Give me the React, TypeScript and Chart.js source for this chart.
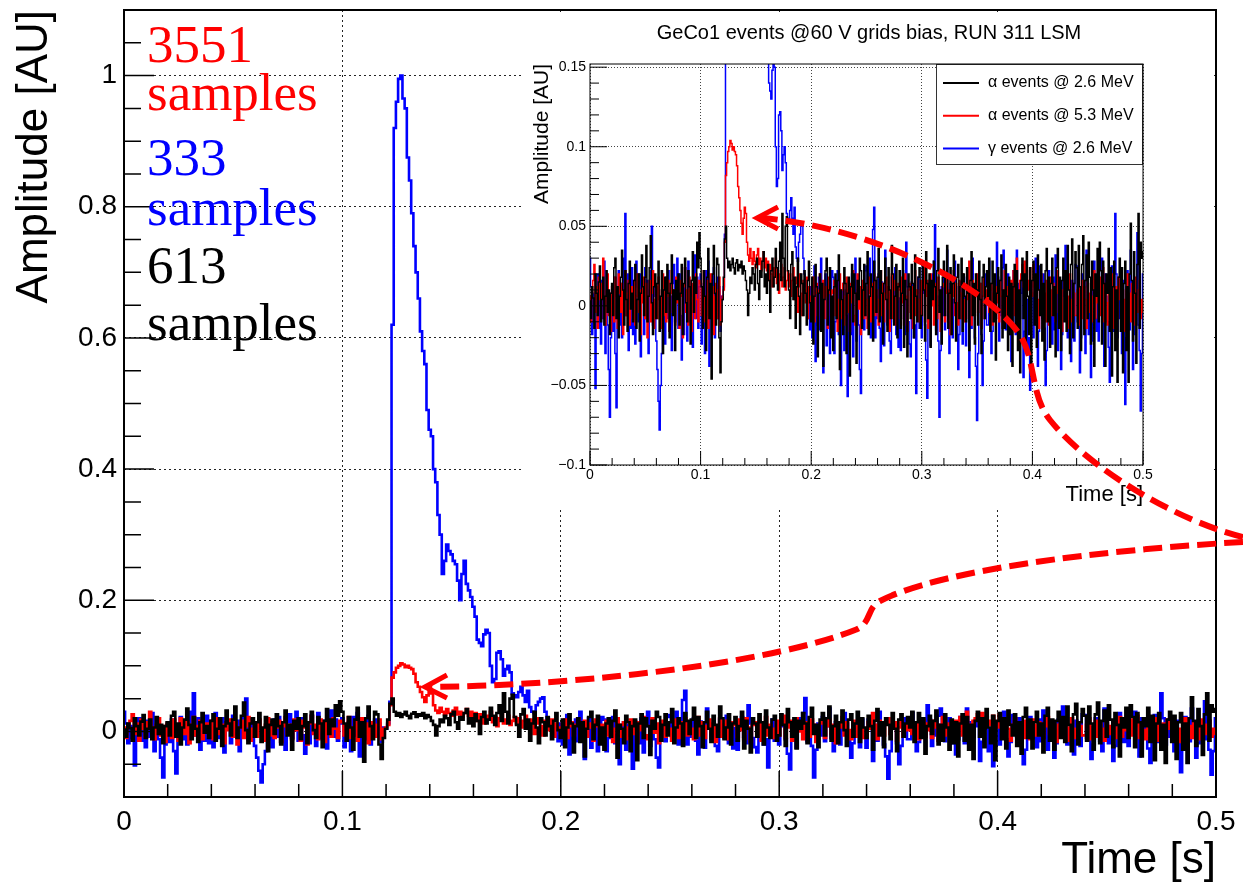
import React, { useEffect, useRef } from 'react';
import { Chart, registerables } from 'chart.js';

Chart.register(...registerables);

// ---------------- data (amplitudes in milli-AU, one sample every 1 ms, 0 … 0.5 s) ----------------
const SAMPLE_PERIOD_S = 0.001;

// alpha events @ 2.6 MeV (black)
const ALPHA_26_MAU = [
  3, -8, 12, 5, -14, 20, 8, -6, 15, 25, -10, 4, 18, -12, 6, 22, -4, 10, -18, 8,
  14, -6, 24, 30, -8, 12, -20, 6, 18, 35, 10, -12, 22, 4, -16, 14, 28, -2, 8, -10,
  16, 26, -14, 4, 20, -22, 8, 32, 12, -6, 18, 38, -10, 6, 24, 44, 2, -18, 12, 20,
  -8, 14, 28, -16, 6, 22, -30, 10, 18, -4, 26, 8, -20, 14, 32, -6, 10, -28, 16, 4,
  20, -12, 8, 26, -18, 14, 30, 2, -10, 22, 12, -24, 16, 34, -4, 18, 8, 40, 24, 46,
  30, 12, -14, 22, 6, -28, 18, 36, -8, 14, -46, 20, 38, 8, -12, 30, 26, -20, -42, -10,
  4, 18, 42, 50, 30, 24, 28, 22, 26, 30, 24, 20, 27, 29, 22, 26, 24, 28, 20, 25,
  22, 16, 10, -6, 8, 18, 14, 24, 20, 10, 26, 30, 14, 4, 22, 18, 28, 34, 12, 20,
  8, 26, 16, -4, 22, 30, 12, 18, 36, 24, 10, 28, 40, 16, 58, 30, 12, 50, 56, 22,
  10, -8, 26, 34, 4, 18, -14, 12, 30, 6, -18, 20, 14, -6, 22, 8, -12, 16, 28, 2,
  -10, 18, -24, 6, 26, 12, -32, 8, 20, -16, 14, -38, 4, 22, 30, -12, 10, 24, -20, 6,
  -28, 12, 20, -8, 16, 32, -40, 10, 4, -18, 24, 14, -30, 8, 18, -44, 12, 26, -10, 20,
  8, -36, 16, 4, 30, 22, -14, 10, 26, -6, 14, 34, -18, 6, 20, 12, -22, 28, 16, -4,
  18, 36, -10, 22, 8, -24, 14, 30, 4, -16, 24, 10, -8, 38, 20, -12, 6, 26, -20, 12,
  22, -14, 8, 30, -26, 16, 4, -32, 20, 12, -8, 26, 14, -20, 32, 6, -10, 18, 24, -14,
  -6, 26, 10, -22, 34, 14, -8, 20, -26, 16, 4, 28, 12, -18, 22, 36, -4, 10, -24, 18,
  28, -6, 20, 38, -14, 8, 24, -18, 14, 32, 2, -22, 18, 26, -8, 12, 30, -16, 20, 6,
  -10, 24, 8, -28, 16, 34, -6, 14, -24, 20, 10, -12, 28, 4, -30, 18, 26, -8, 12, 22,
  6, 30, -16, 14, 28, -10, 20, -34, 8, 24, -4, 16, 32, -20, 10, -14, 26, 6, -28, 18,
  -18, 14, -38, 12, 26, -14, 22, -28, 10, -42, 16, 30, -8, 20, -24, 34, 6, -18, 24, -44,
  16, 28, -12, 20, -26, 32, 10, -6, 26, -22, 14, -34, 22, 36, -10, 18, -26, 14, 30, -6,
  12, -32, 24, 36, -14, 18, -28, 16, 30, -10, 22, -16, 38, 10, -30, 26, 42, -20, 14, 34,
  24, -14, 38, 12, -28, 26, 44, -18, 16, 32, -8, 40, 18, -24, 28, 10, -38, 20, 6, 36,
  -10, 40, 22, -24, 28, 14, -38, 20, 8, 36, -16, 24, -44, 12, 28, -28, 10, -48, 18, 30,
  -16, 24, -42, 14, 28, -28, 12, -48, 20, 52, 16, -22, 34, 8, -36, 26, 58, -14, 40, 30,
  34,
];

// alpha events @ 5.3 MeV (red)
const ALPHA_53_MAU = [
  6, -10, 8, 16, 26, -4, 12, -14, 18, 4, -8, 14, 30, 6, -12, 10, 20, -6, 8, -16,
  12, 4, -10, 18, 6, -14, 20, 8, -4, 14, -18, 10, 22, -6, 8, 16, -12, 4, 12, -8,
  16, -12, 6, 20, -4, 10, -18, 12, 2, 18, -8, 14, -20, 6, 16, -10, 8, 22, -14, 4,
  12, -8, 18, 4, -14, 10, 20, -6, 14, -10, 6, 16, -16, 8, 22, -4, 10, -12, 18, 2,
  8, -14, 16, 6, -20, 12, 24, -4, 10, -12, 18, 2, -16, 14, 8, -8, 20, 4, -10, 16,
  14, -6, 10, 22, -10, 6, 16, -14, 8, 20, -4, 12, -18, 6, 14, -8, 10, 18, -12, 4,
  6, 10, 40, 82, 90, 97, 100, 104, 102, 98, 100, 97, 95, 88, 75, 68, 60, 52, 45, 55,
  62, 58, 40, 32, 28, 36, 30, 26, 34, 28, 24, 32, 36, 26, 30, 22, 28, 34, 24, 30,
  22, 28, 16, 26, 20, 12, 24, 18, 30, 14, 22, 8, 20, 26, 12, 18, 24, 10, 16, 22,
  12, 20, 6, 16, 24, 4, 14, 18, -4, 12, 20, 8, -6, 16, 10, 2, 18, -8, 12, 6,
  -4, 12, 18, -10, 8, 14, -6, 10, 20, -12, 4, 16, -8, 12, 6, -14, 18, 8, -6, 10,
  8, 16, -6, 12, -16, 4, 20, -8, 10, 14, -12, 6, 18, -4, 10, -16, 14, 2, 22, -6,
  -12, 8, 20, -2, 12, -18, 6, 16, -8, 12, 4, -14, 18, 8, -10, 14, 2, 20, -6, 10,
  4, -12, 10, 22, -6, 14, -10, 8, 18, -2, 12, -16, 6, 20, -8, 10, 16, -12, 4, 14,
  10, -8, 18, 2, -12, 20, 6, -16, 10, 14, -4, 12, -14, 8, 22, -6, 10, 4, -10, 16,
  -6, 12, 24, -10, 6, 16, -14, 10, 20, 0, 8, -12, 14, 4, -8, 18, 10, -16, 6, 12,
  14, -10, 8, 18, -4, 10, -18, 12, 6, 22, -6, 14, 2, -12, 16, 8, -8, 20, 4, -10,
  -8, 14, 4, 28, 10, -12, 16, 6, -6, 12, 20, -4, 8, 14, -14, 6, 18, -8, 10, 2,
  20, -4, 10, 14, -12, 8, 18, -8, 12, 2, -10, 16, 6, -14, 10, 22, -6, 12, 4, -8,
  -12, 16, 4, 22, -6, 14, 30, 10, -10, 16, 20, 26, 12, 28, 18, 22, 10, 16, 24, 8,
  6, 26, 12, -8, 18, 4, -14, 10, 20, -2, 12, 8, -10, 16, 4, -12, 18, 10, -6, 14,
  12, -10, 8, 22, -4, 14, 2, -16, 10, 18, -8, 12, 6, -14, 20, 4, -10, 14, 8, -6,
  -6, 10, 20, -12, 6, 16, -8, 12, 4, -14, 18, 8, -4, 14, -10, 6, 22, -8, 12, 2,
  10, 18, -6, 8, 24, -10, 14, 2, -12, 8, 16, -4, 10, 20, -14, 6, 12, -8, 18, 4,
  16, -8, 10, 4, -16, 12, 20, -6, 8, -10, 14, 2, -12, 18, 6, -4, 10, 16, -8, 4,
  -4,
];

// gamma events @ 2.6 MeV (blue)
const GAMMA_26_MAU = [
  30, 12, -18, 8, -10, -52, 4, 20, -14, 10, -24, 16, -8, 28, -30, 6, -12, -40, -70, -20,
  10, -16, 18, -30, -64, 4, 22, -12, 14, -20, 30, 8, 58, -6, 20, -28, 12, -14, 24, -18,
  6, -24, 28, 12, -10, 20, -32, 14, 4, -18, 24, -8, 16, -30, 10, 22, 50, -12, 18, 6,
  -22, -40, -60, -78, -50, -30, -12, 10, -24, 18, -8, 22, -16, 6, -28, 14, 26, -10, 8, 30,
  -14, 20, -6, -34, 12, -18, 24, 4, -22, 28, -10, 16, 6, -26, 10, 32, -8, 18, -14, 12,
  20, -24, 8, 14, -30, 22, -6, 28, -38, 10, 16, -12, 24, -20, 4, 18, -8, 12, -16, 6,
  4, 12, 45, 620, 920, 960, 995, 1000, 965, 950, 875, 840, 790, 740, 700, 660, 610, 580, 560, 490,
  460, 450, 400, 380, 330, 300, 240, 260, 285, 275, 270, 260, 255, 230, 200, 240, 260, 225, 215, 205,
  190, 175, 140, 135, 130, 148, 155, 150, 100, 75, 80, 120, 122, 110, 85, 95, 100, 90, 58, 55,
  52, 60, 68, 55, 45, 62, 37, 30, 28, 40, 45, 50, 52, 30, 20, 12, 4, -8, 10, -15,
  12, -20, 4, 25, -35, 8, -12, 18, -15, 30, -6, -42, 10, 20, -25, -8, 14, -30, 6, 22,
  18, -30, -10, 8, 22, -18, -6, -50, 5, 14, -28, 10, -6, -57, 15, 4, -18, 20, -32, 8,
  30, -22, 10, -12, -40, -55, 12, 4, -15, 22, 25, -8, 10, 30, -20, 14, 48, 62, -20, 6,
  -8, 20, -14, -35, 15, 4, -25, 35, 10, -12, 8, -22, -30, 18, 6, -10, 24, -18, 12, -26,
  5, -28, 14, 22, -8, -18, 40, 12, -10, -24, -32, 15, 6, -20, -12, -55, 8, 18, -14, 10,
  -20, 25, 8, -12, -34, -58, 10, 16, -25, 4, 20, 28, 51, -15, 6, -22, -70, -28, 12, -6,
  22, -15, 8, 35, -10, -30, 14, 8, -20, 4, 28, 12, -10, -40, -18, 15, 6, -24, 18, -8,
  -25, 18, 6, -45, 10, -14, 30, 12, -20, -38, -72, -30, 5, 14, -18, -50, -22, 20, 8, -12,
  -12, 28, 10, -30, -16, 15, 4, -8, 40, 18, -22, -6, 10, 24, 35, -10, -15, 8, 20, -18,
  10, -35, -12, 22, 6, -18, 35, 14, -25, -8, 8, 20, -45, -16, 18, 4, -30, -20, -53, 12,
  15, -20, 8, 30, -12, -38, -16, 25, 10, -8, 20, -14, -50, -28, 12, 22, -10, 6, -24, 18,
  -15, 32, 12, -28, 10, -6, -40, -18, 18, 6, 38, 14, -20, 5, -10, -35, 16, 8, -22, 26,
  25, -10, 6, -42, -20, 20, 8, -14, -30, 35, 12, -18, 4, -45, -22, 15, 28, -8, -16, 10,
  -22, 12, 4, 30, -10, -38, 20, 6, -10, -26, -48, 14, 25, 8, -16, 58, 20, -20, 10, -8,
  10, -30, 16, -12, -62, -20, 22, 6, -15, 35, 10, -40, -18, 15, 4, 46, -12, -28, -66, -30,
  20,
];

const LEGEND_LABELS = ['\u03b1 events @ 2.6 MeV', '\u03b1 events @ 5.3 MeV', '\u03b3 events @ 2.6 MeV'];
const SERIES_COLORS = ['#000000', '#ff0000', '#0000ff'];
const SERIES = [ALPHA_26_MAU, ALPHA_53_MAU, GAMMA_26_MAU];

const MAIN_X_TICKS = [0, 0.1, 0.2, 0.3, 0.4, 0.5];
const MAIN_Y_TICKS = [0, 0.2, 0.4, 0.6, 0.8, 1];
const INSET_X_TICKS = [0, 0.1, 0.2, 0.3, 0.4, 0.5];
const INSET_Y_TICKS = [-0.1, -0.05, 0, 0.05, 0.1, 0.15];

const INSET_TITLE = 'GeCo1 events @60 V grids bias, RUN 311 LSM';
const ANNOTATIONS = [
  { lines: ['3551', 'samples'], color: '#ff0000' },
  { lines: ['333', 'samples'], color: '#0000ff' },
  { lines: ['613', 'samples'], color: '#000000' },
];

// ---------------- helpers ----------------
const SANS = "'Liberation Sans', Arial, Helvetica, sans-serif";
const SERIF = "'Liberation Serif', 'Times New Roman', serif";

const toPoints = (arr: number[]) =>
  arr.map((v, i) => ({ x: Math.round(i * SAMPLE_PERIOD_S * 10000) / 10000, y: v / 1000 }));

const fmtTick = (v: number) => String(Math.round(v * 1000) / 1000);
const fmtInset = (v: number) => fmtTick(v).replace('-', '\u2212');

const range = (from: number, to: number, step: number) => {
  const n = Math.round((to - from) / step);
  return Array.from({ length: n + 1 }, (_, i) => Math.round((from + i * step) * 10000) / 10000);
};
const isMultiple = (v: number, m: number) => Math.abs(v / m - Math.round(v / m)) < 1e-6;

const makeDatasets = (width: number) =>
  SERIES.map((arr, i) => ({
    label: LEGEND_LABELS[i],
    data: toPoints(arr),
    borderColor: SERIES_COLORS[i],
    backgroundColor: SERIES_COLORS[i],
    borderWidth: width,
    stepped: 'middle' as const,
    pointRadius: 0,
    fill: false,
    tension: 0,
  }));

const noScalePadding = (s: any) => {
  s.paddingTop = 0;
  s.paddingBottom = 0;
  s.paddingLeft = 0;
  s.paddingRight = 0;
};

type FrameCfg = {
  xMinor: number[];
  yMinor: number[];
  xMajorStep: number;
  yMajorStep: number;
  xMajorLen: number;
  xMinorLen: number;
  yMajorLen: number;
  yMinorLen: number;
  tickWidth: number;
  frameWidth: number;
  legend?: boolean;
};

const drawLegend = (chart: any) => {
  const { ctx, chartArea: a } = chart;
  const w = 207;
  const h = 100;
  const left = a.right - w;
  const top = a.top;
  ctx.save();
  ctx.fillStyle = '#ffffff';
  ctx.fillRect(left, top, w, h);
  ctx.strokeStyle = '#333';
  ctx.lineWidth = 1;
  ctx.strokeRect(left + 0.5, top + 0.5, w - 1, h);
  ctx.font = `16px ${SANS}`;
  ctx.textBaseline = 'middle';
  ctx.textAlign = 'left';
  LEGEND_LABELS.forEach((label, i) => {
    const y = top + 19 + i * 32.8;
    ctx.strokeStyle = SERIES_COLORS[i];
    ctx.lineWidth = 2;
    ctx.beginPath();
    ctx.moveTo(left + 7, y);
    ctx.lineTo(left + 43, y);
    ctx.stroke();
    ctx.fillStyle = '#000';
    ctx.fillText(label, left + 52, y);
  });
  ctx.restore();
};

const makeFramePlugin = (cfg: FrameCfg) => ({
  id: 'rootFrame',
  afterDatasetsDraw(chart: any) {
    const { ctx, chartArea: a } = chart;
    const xs = chart.scales.x;
    const ys = chart.scales.y;
    if (cfg.legend) drawLegend(chart);
    ctx.save();
    ctx.setLineDash([]);
    ctx.strokeStyle = '#000';
    ctx.lineWidth = cfg.tickWidth;
    ctx.beginPath();
    cfg.xMinor.forEach((v) => {
      const p = xs.getPixelForValue(v);
      const len = isMultiple(v, cfg.xMajorStep) ? cfg.xMajorLen : cfg.xMinorLen;
      ctx.moveTo(p, a.bottom);
      ctx.lineTo(p, a.bottom - len);
    });
    cfg.yMinor.forEach((v) => {
      const p = ys.getPixelForValue(v);
      const len = isMultiple(v, cfg.yMajorStep) ? cfg.yMajorLen : cfg.yMinorLen;
      ctx.moveTo(a.left, p);
      ctx.lineTo(a.left + len, p);
    });
    ctx.stroke();
    ctx.lineWidth = cfg.frameWidth;
    ctx.strokeRect(a.left, a.top, a.right - a.left, a.bottom - a.top);
    ctx.restore();
  },
});

// ---------------- chart configs ----------------
const mainConfig = (): any => ({
  type: 'line',
  data: { datasets: makeDatasets(2.6) },
  options: {
    animation: false,
    responsive: false,
    maintainAspectRatio: false,
    devicePixelRatio: 1,
    events: [],
    layout: { padding: { top: 10, right: 27, bottom: 0, left: 0 }, autoPadding: false },
    plugins: { legend: { display: false }, tooltip: { enabled: false }, title: { display: false } },
    scales: {
      x: {
        type: 'linear',
        min: 0,
        max: 0.5,
        afterBuildTicks: (s: any) => {
          s.ticks = MAIN_X_TICKS.map((value) => ({ value }));
        },
        afterFit: (s: any) => {
          s.height = 86;
          noScalePadding(s);
        },
        ticks: {
          callback: (v: number) => fmtTick(v),
          color: '#000',
          font: { family: SANS, size: 28 },
          padding: 8,
          maxRotation: 0,
          autoSkip: false,
        },
        grid: { color: '#222', lineWidth: 1, drawTicks: false },
        border: { display: false, dash: [2, 3] },
        title: {
          display: true,
          text: 'Time [s]',
          align: 'end',
          color: '#000',
          font: { family: SANS, size: 44, lineHeight: 1 },
          padding: { top: 0, bottom: 0 },
        },
      },
      y: {
        type: 'linear',
        min: -0.1,
        max: 1.1,
        afterBuildTicks: (s: any) => {
          s.ticks = MAIN_Y_TICKS.map((value) => ({ value }));
        },
        afterFit: (s: any) => {
          s.width = 124;
          noScalePadding(s);
        },
        ticks: {
          callback: (v: number) => fmtTick(v),
          color: '#000',
          font: { family: SANS, size: 28 },
          padding: 7,
          autoSkip: false,
        },
        grid: { color: '#222', lineWidth: 1, drawTicks: false },
        border: { display: false, dash: [2, 3] },
        title: {
          display: true,
          text: 'Amplitude [AU]',
          align: 'end',
          color: '#000',
          font: { family: SANS, size: 44, lineHeight: 1 },
          padding: { top: 13, bottom: 0 },
        },
      },
    },
  },
  plugins: [
    makeFramePlugin({
      xMinor: range(0, 0.5, 0.02),
      yMinor: range(-0.1, 1.1, 0.05),
      xMajorStep: 0.1,
      yMajorStep: 0.2,
      xMajorLen: 26,
      xMinorLen: 13,
      yMajorLen: 30,
      yMinorLen: 17,
      tickWidth: 1.5,
      frameWidth: 2,
    }),
  ],
});

const insetConfig = (): any => ({
  type: 'line',
  data: { datasets: makeDatasets(1.5) },
  options: {
    animation: false,
    responsive: false,
    maintainAspectRatio: false,
    devicePixelRatio: 1,
    events: [],
    layout: { padding: { top: 52, right: 71, bottom: 0, left: 0 }, autoPadding: false },
    plugins: { legend: { display: false }, tooltip: { enabled: false }, title: { display: false } },
    scales: {
      x: {
        type: 'linear',
        min: 0,
        max: 0.5,
        afterBuildTicks: (s: any) => {
          s.ticks = INSET_X_TICKS.map((value) => ({ value }));
        },
        afterFit: (s: any) => {
          s.height = 45;
          noScalePadding(s);
        },
        ticks: {
          callback: (v: number) => fmtInset(v),
          color: '#000',
          font: { family: SANS, size: 14 },
          padding: 2,
          maxRotation: 0,
          autoSkip: false,
        },
        grid: { color: '#444', lineWidth: 1, drawTicks: false },
        border: { display: false, dash: [1, 2] },
        title: {
          display: true,
          text: 'Time [s]',
          align: 'end',
          color: '#000',
          font: { family: SANS, size: 22, lineHeight: 1 },
          padding: { top: 0, bottom: 4 },
        },
      },
      y: {
        type: 'linear',
        min: -0.1,
        max: 0.152,
        afterBuildTicks: (s: any) => {
          s.ticks = INSET_Y_TICKS.map((value) => ({ value }));
        },
        afterFit: (s: any) => {
          s.width = 69;
          noScalePadding(s);
        },
        ticks: {
          callback: (v: number) => fmtInset(v),
          color: '#000',
          font: { family: SANS, size: 14 },
          padding: 4,
          autoSkip: false,
        },
        grid: { color: '#444', lineWidth: 1, drawTicks: false },
        border: { display: false, dash: [1, 2] },
        title: {
          display: true,
          text: 'Amplitude [AU]',
          align: 'end',
          color: '#000',
          font: { family: SANS, size: 21, lineHeight: 1 },
          padding: { top: 11, bottom: 0 },
        },
      },
    },
  },
  plugins: [
    makeFramePlugin({
      xMinor: range(0, 0.5, 0.02),
      yMinor: range(-0.1, 0.15, 0.01),
      xMajorStep: 0.1,
      yMajorStep: 0.05,
      xMajorLen: 14,
      xMinorLen: 7,
      yMajorLen: 17,
      yMinorLen: 9,
      tickWidth: 1,
      frameWidth: 1,
      legend: true,
    }),
  ],
});

// ---------------- component ----------------
const ANNOT_BASELINES = [
  [62, 110],
  [175, 225],
  [283, 340],
];

export default function App() {
  const mainRef = useRef<HTMLCanvasElement>(null);
  const insetRef = useRef<HTMLCanvasElement>(null);

  useEffect(() => {
    const main = new Chart(mainRef.current as HTMLCanvasElement, mainConfig());
    const inset = new Chart(insetRef.current as HTMLCanvasElement, insetConfig());
    return () => {
      main.destroy();
      inset.destroy();
    };
  }, []);

  return (
    <div
      style={{
        position: 'fixed',
        left: 0,
        top: 0,
        width: 1243,
        height: 883,
        background: '#ffffff',
        overflow: 'hidden',
      }}
    >
      <canvas ref={mainRef} width={1243} height={883} style={{ position: 'absolute', left: 0, top: 0 }} />
      <canvas
        ref={insetRef}
        width={693}
        height={498}
        style={{ position: 'absolute', left: 521, top: 12, background: '#ffffff' }}
      />
      <svg
        width={1243}
        height={883}
        style={{ position: 'absolute', left: 0, top: 0, pointerEvents: 'none' }}
      >
        <text x={869} y={39} textAnchor="middle" fontFamily={SANS} fontSize={20} fill="#000">
          {INSET_TITLE}
        </text>
        <g fontFamily={SERIF} fontSize={53}>
          {ANNOTATIONS.map((a, i) =>
            a.lines.map((line, j) => (
              <text key={`${i}-${j}`} x={147} y={ANNOT_BASELINES[i][j]} fill={a.color}>
                {line}
              </text>
            ))
          )}
        </g>
        <g fill="none" stroke="#ff0000" strokeWidth={6} strokeDasharray="19 8">
          <path d="M1243,542 C1100,550 940,570 880,601 C866,608 872,624 855,630 C780,660 600,685 430,687" />
          <path d="M1243,537 C1180,522 1090,470 1050,420 C1030,395 1036,360 1020,335 C990,290 880,228 762,218" />
        </g>
        <g fill="none" stroke="#ff0000" strokeWidth={5} strokeLinejoin="miter">
          <polyline points="447,675 425,687 447,698" />
          <polyline points="778,207 757,218 778,229" />
        </g>
      </svg>
    </div>
  );
}
